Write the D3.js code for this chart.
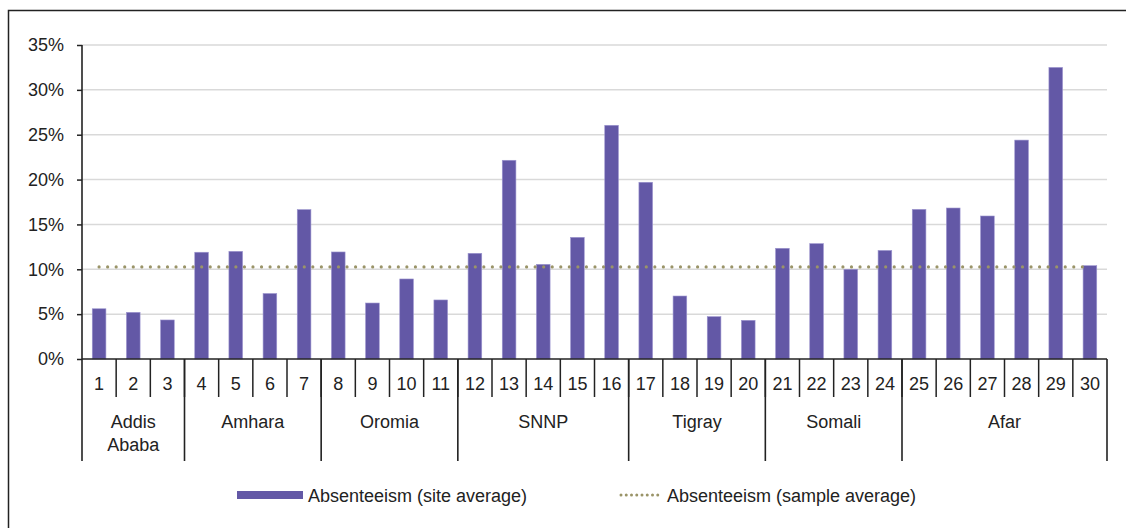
<!DOCTYPE html>
<html><head><meta charset="utf-8">
<script src="https://cdn.jsdelivr.net/npm/d3@7"></script>
<style>
body{margin:0;background:#fff;}
svg{display:block;font-family:"Liberation Sans",Arial,sans-serif;}
</style></head>
<body><svg id="c" width="1126" height="528"></svg>
<script>
const sites = d3.range(1,31).map(String);
const values = [5.6,5.2,4.35,11.9,12.0,7.3,16.65,11.93,6.24,8.92,6.58,11.78,22.15,10.55,13.56,26.05,19.7,7.02,4.72,4.31,12.34,12.86,10.0,12.1,16.68,16.83,15.94,24.4,32.5,10.4];
const regions = ["Addis Ababa","Amhara","Oromia","SNNP","Tigray","Somali","Afar"];
const regionSizes = [3,4,4,5,4,4,6];
const sampleAverage = 10.26;
const yTicks = [0,5,10,15,20,25,30,35];
const seriesNames = ["Absenteeism (site average)","Absenteeism (sample average)"];

const svg = d3.select("#c");
const L=82,R=1107,T=45,B=359;
const barColor="#6358a6", dotColor="#9a9468", textColor="#222";

// frame
svg.append("path").attr("d","M8.5,540V10.5H1140").attr("fill","none").attr("stroke","#222").attr("stroke-width",1.5);

const x = d3.scaleBand().domain(sites).range([L,R]).paddingInner(0.6).paddingOuter(0.3);
const xb = d3.scaleBand().domain(sites).range([L,R]);
const y = d3.scaleLinear().domain([0,35]).range([B,T]);

// gridlines
svg.append("g").selectAll("line").data(yTicks.filter(d=>d>0)).join("line")
  .attr("x1",L).attr("x2",R).attr("y1",d=>y(d)).attr("y2",d=>y(d))
  .attr("stroke","#d9d9d9").attr("stroke-width",1.5);

// bars
svg.append("g").selectAll("rect").data(values).join("rect")
  .attr("x",(d,i)=>xb(sites[i])+xb.bandwidth()*0.3)
  .attr("width",xb.bandwidth()*0.4)
  .attr("y",d=>y(d)).attr("height",d=>B-y(d))
  .attr("fill",barColor).attr("stroke","#9d96cf").attr("stroke-width",0.6);

// sample average dotted line
svg.append("line")
  .attr("x1",xb(sites[0])+xb.bandwidth()/2).attr("x2",xb(sites[29])+xb.bandwidth()/2)
  .attr("y1",y(sampleAverage)).attr("y2",y(sampleAverage))
  .attr("stroke",dotColor).attr("stroke-width",3.2).attr("stroke-linecap","round")
  .attr("stroke-dasharray","0 8.55");

// y axis
const yAxis = d3.axisLeft(y).tickValues(yTicks).tickSize(5).tickPadding(13).tickFormat(d=>d+"%");
const ga = svg.append("g").attr("transform",`translate(${L},0)`).call(yAxis);
ga.select(".domain").remove();
ga.selectAll(".tick line").attr("stroke","#222").attr("stroke-width",1.5);
ga.selectAll("text").attr("font-size",18).attr("fill",textColor).attr("font-family","'Liberation Sans',Arial,sans-serif");
svg.append("line").attr("x1",L).attr("x2",L).attr("y1",T).attr("y2",461).attr("stroke","#222").attr("stroke-width",1.6);

// x axis baseline
svg.append("line").attr("x1",L).attr("x2",R).attr("y1",B).attr("y2",B).attr("stroke","#222").attr("stroke-width",1.6);

// site ticks
const gx = svg.append("g");
gx.selectAll("line").data(sites.slice(1)).join("line")
  .attr("x1",d=>xb(d)).attr("x2",d=>xb(d)).attr("y1",B).attr("y2",397)
  .attr("stroke","#222").attr("stroke-width",1.5);
gx.selectAll("text").data(sites).join("text")
  .attr("x",d=>xb(d)+xb.bandwidth()/2).attr("y",390)
  .attr("text-anchor","middle").attr("font-size",18).attr("fill",textColor).text(d=>d);

// region separators & labels
let cum=0; const bounds=[0];
regionSizes.forEach(s=>{cum+=s;bounds.push(cum);});
const bx = i => i>=30 ? R : xb(sites[i]);
svg.append("g").selectAll("line").data(bounds.slice(1)).join("line")
  .attr("x1",d=>bx(d)).attr("x2",d=>bx(d)).attr("y1",B).attr("y2",461)
  .attr("stroke","#222").attr("stroke-width",1.6);
const gl = svg.append("g");
regions.forEach((r,i)=>{
  const cx=(bx(bounds[i])+bx(bounds[i+1]))/2;
  const words = r==="Addis Ababa" ? ["Addis","Ababa"] : [r];
  const t = gl.append("text").attr("text-anchor","middle").attr("font-size",18).attr("fill",textColor);
  words.forEach((w,k)=>t.append("tspan").attr("x",cx).attr("y",428+k*23).text(w));
});

// legend
const lg = svg.append("g");
lg.append("rect").attr("x",237).attr("y",491).attr("width",66).attr("height",8).attr("fill",barColor);
lg.append("text").attr("x",308).attr("y",502).attr("font-size",18).attr("fill",textColor).text(seriesNames[0]);
lg.append("line").attr("x1",621).attr("x2",663).attr("y1",495).attr("y2",495)
  .attr("stroke",dotColor).attr("stroke-width",3).attr("stroke-linecap","round").attr("stroke-dasharray","0 5.25");
lg.append("text").attr("x",667).attr("y",502).attr("font-size",18).attr("fill",textColor).text(seriesNames[1]);
</script></body></html>
